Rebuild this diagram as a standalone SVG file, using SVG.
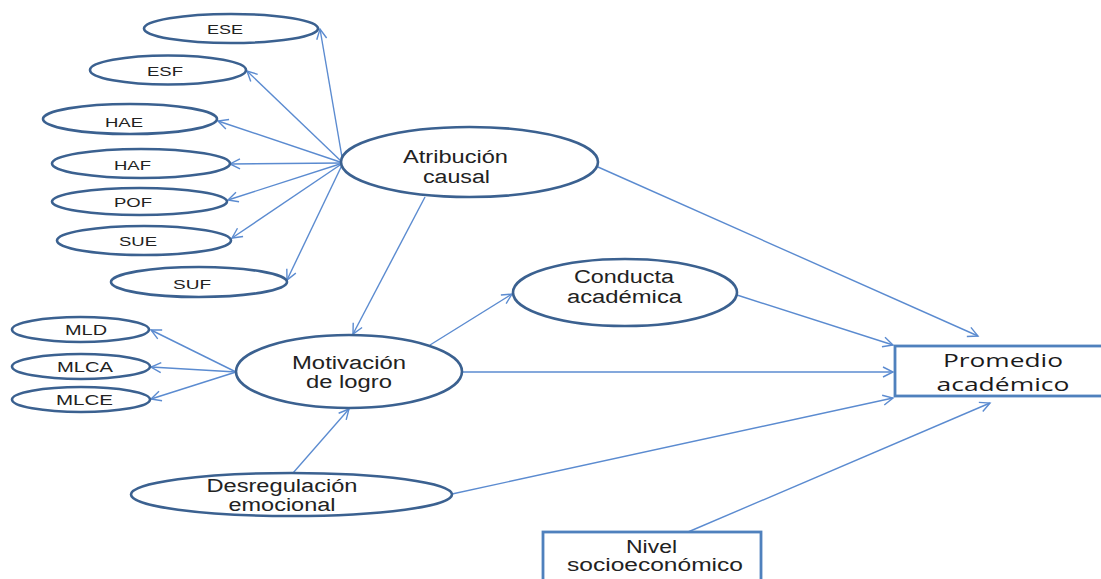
<svg xmlns="http://www.w3.org/2000/svg" width="1101" height="579" viewBox="0 0 1101 579">
<defs>
<marker id="arr" markerUnits="userSpaceOnUse" markerWidth="14" markerHeight="14" refX="11" refY="6" orient="auto" viewBox="0 0 14 12">
<path d="M1,1 L11,6 L1,11" fill="none" stroke="#5B8BD0" stroke-width="1.4"/>
</marker>
<style>
.ell{fill:#fff;stroke:#3B6190;stroke-width:2.6}
.box{fill:#fff;stroke:#4F81BD;stroke-width:2.8}
.con{fill:none;stroke:#5B8BD0;stroke-width:1.4;marker-end:url(#arr)}
text{font-family:"Liberation Sans",Arial,sans-serif;fill:#222;text-anchor:middle}
.s{font-size:13px}
.m{font-size:14px}
.l{font-size:18px}
.p{font-family:"Open Sans","Noto Sans",sans-serif;font-size:19px;fill:#1a1a1a}
</style>
</defs>
<rect width="1101" height="579" fill="#fff"/>
<g id="connectors">
<line class="con" x1="343" y1="163" x2="320" y2="29"/>
<line class="con" x1="343" y1="163" x2="247" y2="71"/>
<line class="con" x1="343" y1="163" x2="218" y2="121"/>
<line class="con" x1="343" y1="163" x2="230" y2="164"/>
<line class="con" x1="343" y1="163" x2="228" y2="200"/>
<line class="con" x1="343" y1="163" x2="232" y2="238"/>
<line class="con" x1="343" y1="163" x2="287" y2="280"/>
<line class="con" x1="236" y1="372" x2="151" y2="330"/>
<line class="con" x1="236" y1="372" x2="151" y2="367"/>
<line class="con" x1="236" y1="372" x2="151" y2="399"/>
<line class="con" x1="425" y1="197" x2="353" y2="334"/>
<line class="con" x1="293" y1="473" x2="349" y2="409"/>
<line class="con" x1="430" y1="345" x2="512" y2="294"/>
<line class="con" x1="598" y1="167" x2="978" y2="336"/>
<line class="con" x1="737" y1="295" x2="893" y2="345"/>
<line class="con" x1="462" y1="372" x2="893" y2="372"/>
<line class="con" x1="452" y1="494" x2="893" y2="398"/>
<line class="con" x1="688" y1="532" x2="990" y2="403"/>
</g>
<g id="ESE"><ellipse class="ell" cx="231" cy="28.5" rx="87" ry="14.5"/><text class="s" x="225" y="33.5" textLength="36" lengthAdjust="spacingAndGlyphs">ESE</text></g>
<g id="ESF"><ellipse class="ell" cx="168" cy="70" rx="78" ry="14.5"/><text class="s" x="165" y="75.5" textLength="36" lengthAdjust="spacingAndGlyphs">ESF</text></g>
<g id="HAE"><ellipse class="ell" cx="130" cy="119" rx="87" ry="15"/><text class="s" x="124" y="126.5" textLength="38" lengthAdjust="spacingAndGlyphs">HAE</text></g>
<g id="HAF"><ellipse class="ell" cx="141" cy="163.5" rx="89" ry="14.5"/><text class="s" x="132.5" y="169.5" textLength="37" lengthAdjust="spacingAndGlyphs">HAF</text></g>
<g id="POF"><ellipse class="ell" cx="139.5" cy="201.5" rx="87.5" ry="13.5"/><text class="s" x="133" y="206.5" textLength="38" lengthAdjust="spacingAndGlyphs">POF</text></g>
<g id="SUE"><ellipse class="ell" cx="144" cy="240.5" rx="87" ry="14.5"/><text class="s" x="138" y="245.5" textLength="38" lengthAdjust="spacingAndGlyphs">SUE</text></g>
<g id="SUF"><ellipse class="ell" cx="199" cy="282" rx="88" ry="15"/><text class="s" x="192" y="288.5" textLength="38" lengthAdjust="spacingAndGlyphs">SUF</text></g>
<g id="MLD"><ellipse class="ell" cx="80.5" cy="329.5" rx="68.5" ry="12.5"/><text class="m" x="86" y="334.5" textLength="42" lengthAdjust="spacingAndGlyphs">MLD</text></g>
<g id="MLCA"><ellipse class="ell" cx="81" cy="366.5" rx="69" ry="12.5"/><text class="m" x="85" y="372" textLength="56" lengthAdjust="spacingAndGlyphs">MLCA</text></g>
<g id="MLCE"><ellipse class="ell" cx="81" cy="399.5" rx="69" ry="12.5"/><text class="m" x="84.5" y="405" textLength="57" lengthAdjust="spacingAndGlyphs">MLCE</text></g>
<g id="atribucion"><ellipse class="ell" cx="469.5" cy="162" rx="128.5" ry="35"/><text class="l" x="455.5" y="163" textLength="105" lengthAdjust="spacingAndGlyphs">Atribución</text><text class="l" x="456.5" y="183" textLength="67" lengthAdjust="spacingAndGlyphs">causal</text></g>
<g id="motivacion"><ellipse class="ell" cx="349" cy="371.5" rx="113" ry="36.5"/><text class="l" x="349" y="369" textLength="114" lengthAdjust="spacingAndGlyphs">Motivación</text><text class="l" x="349" y="388" textLength="86" lengthAdjust="spacingAndGlyphs">de logro</text></g>
<g id="conducta"><ellipse class="ell" cx="625" cy="292.5" rx="112" ry="33.5"/><text class="l" x="624" y="283" textLength="100" lengthAdjust="spacingAndGlyphs">Conducta</text><text class="l" x="624.5" y="303" textLength="115" lengthAdjust="spacingAndGlyphs">académica</text></g>
<g id="desregulacion"><ellipse class="ell" cx="291.5" cy="494.5" rx="160.5" ry="21.5"/><text class="l" x="282" y="492" textLength="151" lengthAdjust="spacingAndGlyphs">Desregulación</text><text class="l" x="282" y="511" textLength="107" lengthAdjust="spacingAndGlyphs">emocional</text></g>
<g id="promedio"><rect class="box" x="895" y="346" width="210" height="50"/><text class="p" x="1003" y="367" textLength="120" lengthAdjust="spacingAndGlyphs">Promedio</text><text class="p" x="1003" y="391" textLength="133" lengthAdjust="spacingAndGlyphs">académico</text></g>
<g id="nivel"><rect class="box" x="543" y="532" width="218" height="60"/><text class="l" x="651.5" y="553" textLength="51" lengthAdjust="spacingAndGlyphs">Nivel</text><text class="l" x="655" y="571" textLength="176" lengthAdjust="spacingAndGlyphs">socioeconómico</text></g>
</svg>
